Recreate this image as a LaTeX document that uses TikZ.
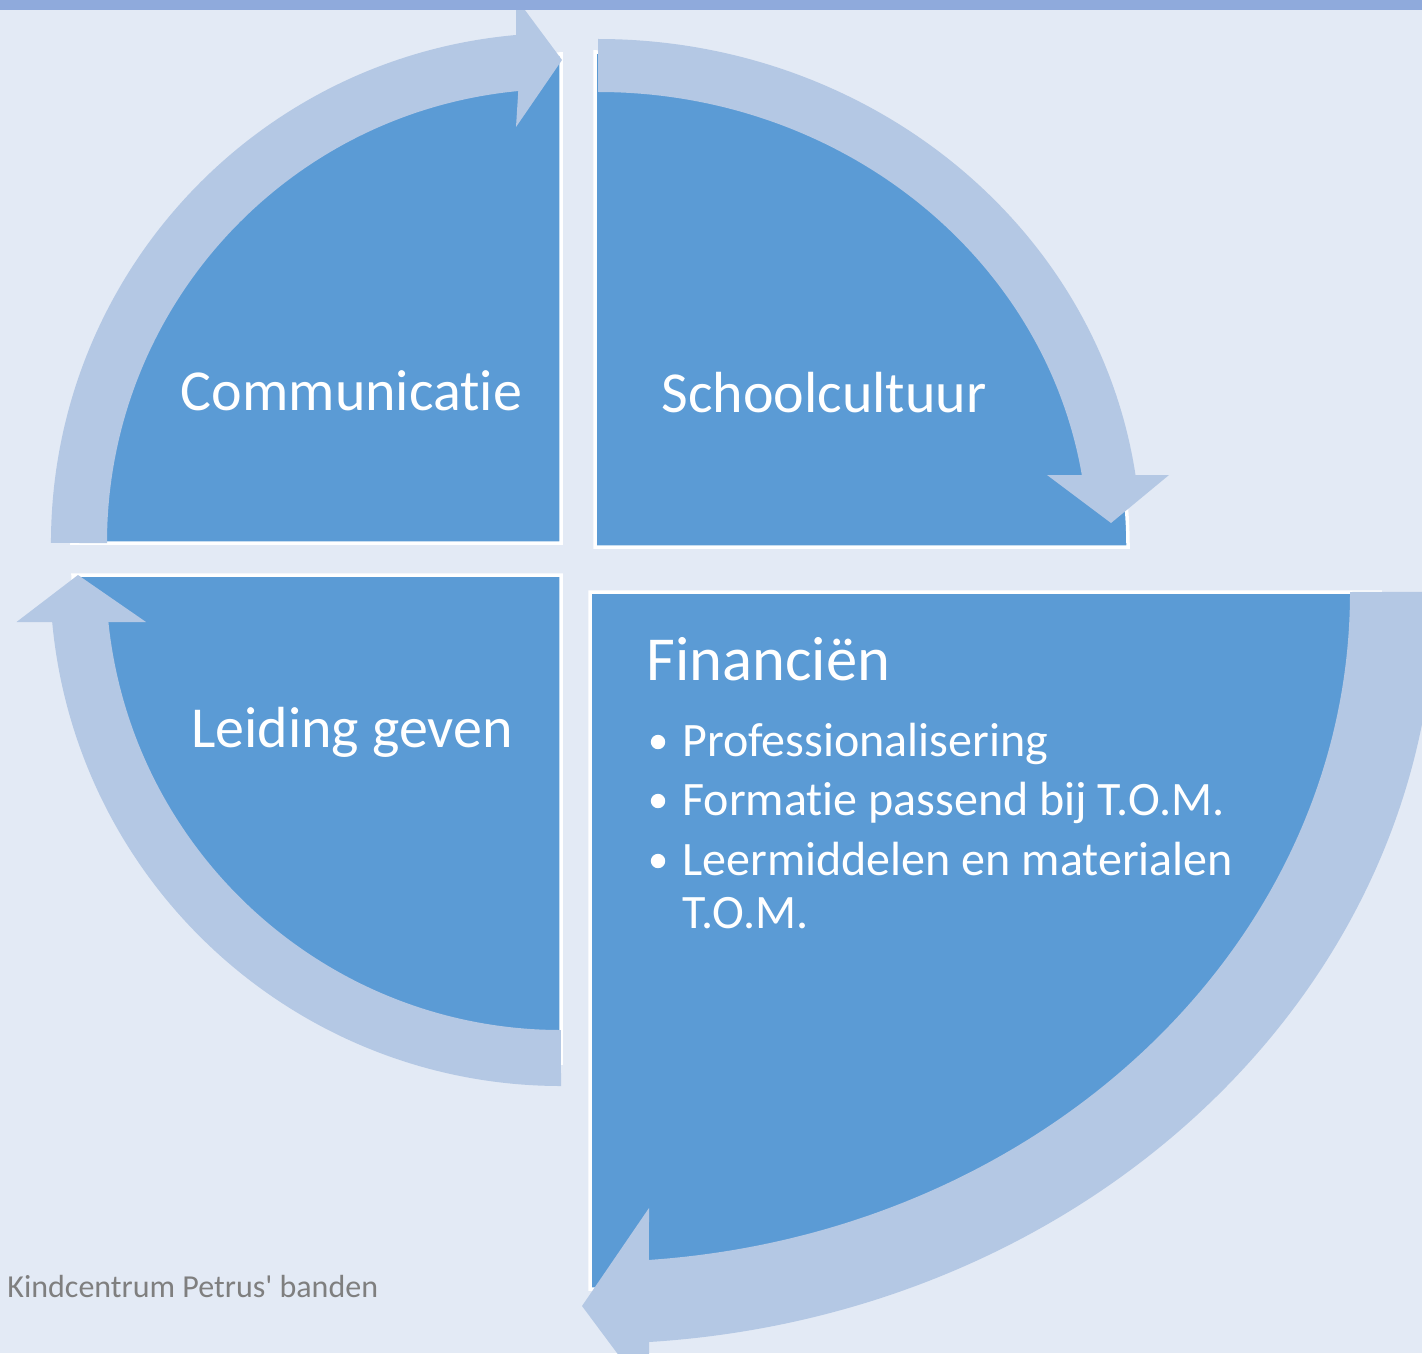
\documentclass[tikz,border=0pt]{standalone}
\usepackage{fontspec}
\setmainfont{Carlito}[Ligatures={TeX,NoCommon}]
\newfontfamily\captionfont{Carlito}[Ligatures=NoCommon]
\definecolor{bgblue}{HTML}{E3EAF5}
\definecolor{topbar}{HTML}{8FAADC}
\definecolor{quadblue}{HTML}{5B9BD5}
\definecolor{arrowblue}{HTML}{B4C8E4}
\definecolor{captiongrey}{HTML}{7F7F7F}

\begin{document}
\begin{tikzpicture}[x=0.5pt,y=0.5pt,
   quad/.style={fill=quadblue,draw=white,line width=1.75pt},
   band/.style={fill=arrowblue},
   quadtext/.style={text=white,font=\fontsize{29}{35}\selectfont,inner sep=0pt,anchor=base},
   bullettext/.style={text=white,font=\fontsize{24}{28}\selectfont,inner sep=0pt,anchor=base west},
   bulletdot/.style={circle,fill=white,inner sep=0pt,minimum size=7.2pt}]
   \useasboundingbox (0,0) rectangle (1422,-1353);
   \clip (0,0) rectangle (1422,-1353);
   \fill[bgblue] (0,0) rectangle (1422,-1353);

   % quadrants
   \draw[quad] (561,-543) -- (72,-543) arc[start angle=180,end angle=90,radius=489] -- cycle;
   \draw[quad] (595,-547) -- (595,-52) arc[start angle=90,end angle=0,x radius=533,y radius=495] -- cycle;
   \draw[quad] (561,-575) -- (73,-575) arc[start angle=180,end angle=270,radius=488] -- cycle;
   \draw[quad] (590,-592) -- (1380,-592) arc[start angle=0,end angle=-90,x radius=790,y radius=697] -- cycle;

   % circular arrows
   \fill[band] (107,-543) arc[start angle=180,end angle=95.4,radius=454]
      -- (516,-127) -- (562,-60) -- (516,2) -- (516,-35)
      arc[start angle=95.06,end angle=180,radius=510] -- cycle;
   \fill[band] (598,-92) arc[start angle=90,end angle=9.1,x radius=490,y radius=455]
      -- (1047,-475) -- (1111,-523) -- (1169,-475) -- (1135.5,-475)
      arc[start angle=8.15,end angle=90,x radius=543,y radius=508] -- cycle;
   \fill[band] (1350,-592) arc[start angle=0,end angle=-85.55,x radius=760,y radius=670]
      -- (649,-1208) -- (582,-1306) -- (649,-1396) -- (649,-1342)
      arc[start angle=-86,end angle=0,x radius=845,y radius=752] -- cycle;
   \fill[band] (561,-1086) arc[start angle=270,end angle=185.28,radius=511]
      -- (16.5,-622) -- (78,-575) -- (146,-622) -- (108.4,-622)
      arc[start angle=185.93,end angle=270,radius=455] -- cycle;

   \fill[topbar] (0,0) rectangle (1422,-10);

   \node[quadtext] (comm) at (351.5,-410) {Communicatie};
   \node[quadtext] (school) at (824,-412) {Schoolcultuur};
   \node[quadtext] (leiding) at (352,-747) {Leiding geven};
   \node[quadtext,anchor=base west,font=\fontsize{31.3}{37}\selectfont] (fin) at (646,-680) {Financiën};
   \foreach \y/\t [count=\i] in {756/Professionalisering,815/Formatie passend bij T.O.M.,875/Leermiddelen en materialen} {
      \node[bulletdot] (dot\i) at (658,-\y+14) {};
      \node[bullettext] (item\i) at (682,-\y) {\t};
   }
   \node[bullettext] (item4) at (682,-928) {T.O.M.};

   \node[anchor=base west,inner sep=0pt,text=captiongrey,font=\captionfont\fontsize{16}{18}\selectfont] (caption) at (7,-1297) {Kindcentrum Petrus' banden};
\end{tikzpicture}
\end{document}
